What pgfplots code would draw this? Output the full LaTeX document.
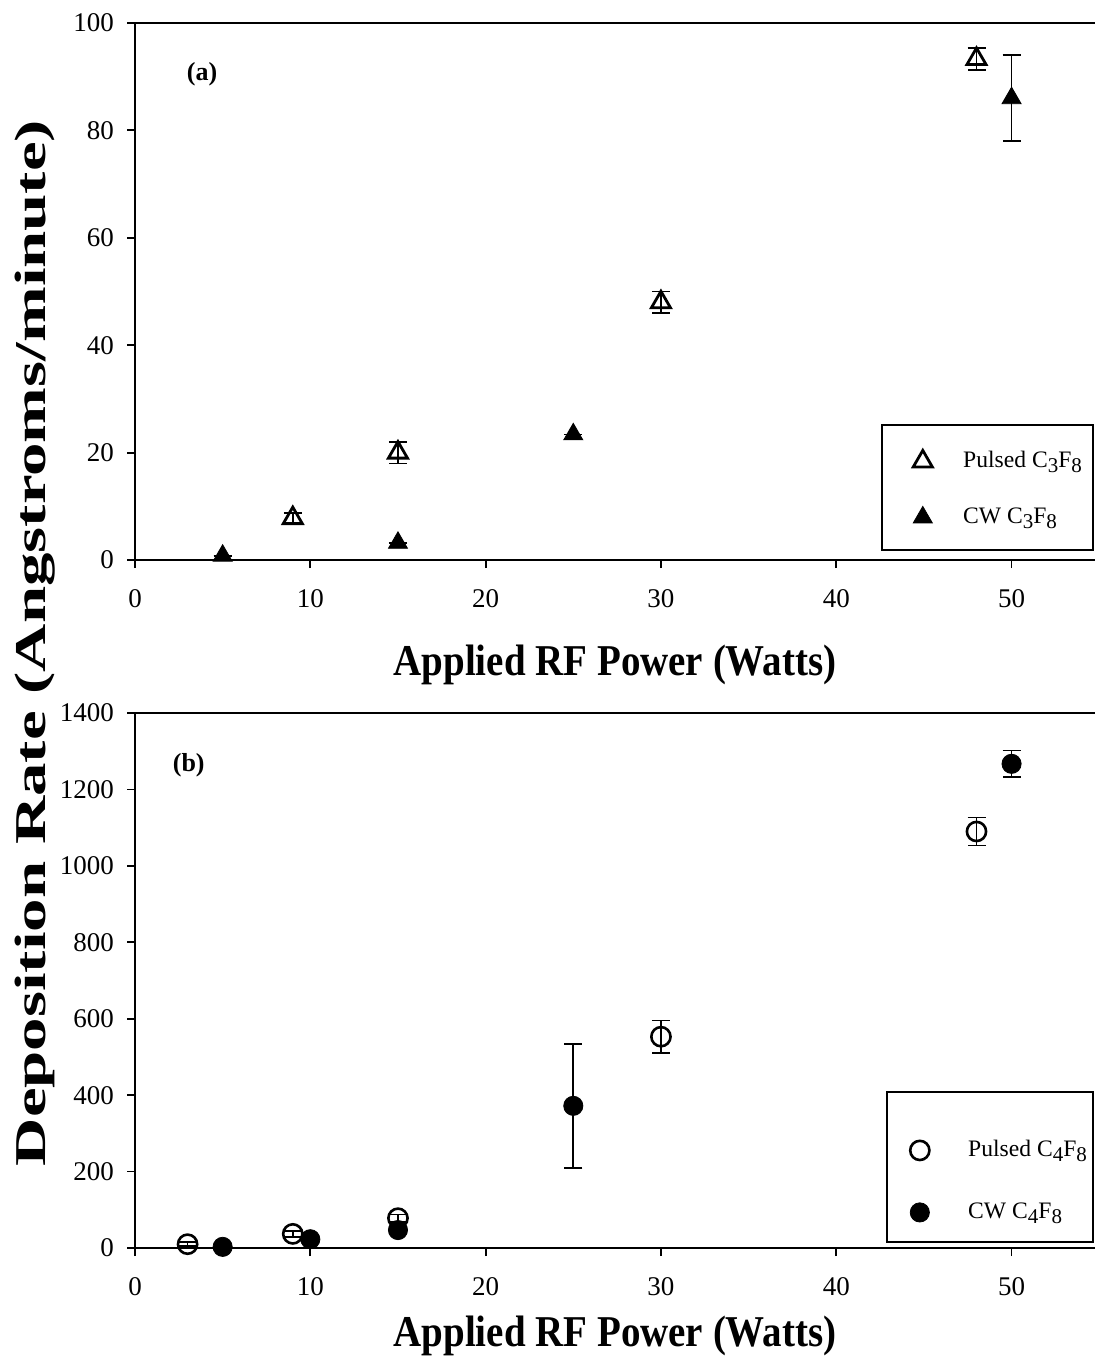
\documentclass[border=0pt]{standalone}
\usepackage{pgfplots}
\pgfplotsset{compat=1.18}
\usepackage{pgfplotstable}
\usepackage{fontspec}
\setmainfont{Liberation Serif}
\newcommand\sub[1]{\raisebox{-0.45ex}{\fontsize{10.5}{11}\selectfont #1}}

\pgfplotstableread{
x y e
9 7.8 1
15 20 2
30 48 2
48 93.3 2
}\pulsedA
\pgfplotstableread{
x y e
5 0.8 0
15 3.2 0
25 23.4 0
50 86 8
}\cwA
\pgfplotstableread{
x y e
3 10 5
9 37 8
15 78 10
30 553 42
48 1090 37
}\pulsedB
\pgfplotstableread{
x y e
5 3 0
10 23 0
15 47 0
25 372 162
50 1267 35
}\cwB

\pgfplotsset{
  myax/.style={
    scale only axis, width=480pt,
    xmin=0, xmax=54.76,
    axis x line=bottom, axis y line=left,
    axis line style={-, line width=1pt},
    tick align=outside, major tick length=4pt,
    every tick/.style={black, line width=0.9pt},
    xtick={0,10,...,50},
    /pgf/number format/assume math mode=true,
    /pgf/number format/1000 sep={},
    tick label style={font=\fontsize{13.5}{16}\selectfont},
    xticklabel style={yshift=-7pt},
    yticklabel style={xshift=-3pt},
    clip=false,
    xlabel={Applied RF Power (Watts)},
    xlabel style={font=\bfseries\fontsize{22}{26}\selectfont, anchor=center, xscale=0.886},
    legend cell align=left,
    legend style={draw=none, fill=none, anchor=north west, inner sep=0pt,
      nodes={inner sep=0pt, text height=9pt, text depth=3pt},
      font=\fontsize{11.8}{14}\selectfont},
    error bars/y dir=both, error bars/y explicit,
    error bars/error bar style={line width=0.8pt, black},
    error bars/error mark options={rotate=90, line width=0.8pt, mark size=4.5pt, black},
  }
}

\begin{document}
\begin{tikzpicture}
\useasboundingbox (0,0) rectangle (547.5pt,-679pt);

\begin{axis}[myax,
  at={(67.5pt,-280pt)}, anchor=south west,
  height=268.5pt,
  ymin=0, ymax=100, ytick={0,20,...,100},
  xlabel style={at={(axis description cs:0.5,-0.195)}},
  legend style={at={(0.7906,0.2067)}, column sep=6pt, row sep=16pt},
  legend image code/.code={\path (0pt,0pt) (28pt,0pt); \draw[#1] plot coordinates {(14pt,0pt)};},
]
\addplot[black, only marks, mark=triangle, mark size=5.5pt, mark options={line width=1.4pt, fill=none}]
  table[x=x, y=y, y error=e] {\pulsedA};
\addlegendentry{Pulsed C\sub{3}F\sub{8}}
\addplot[black, only marks, mark=triangle*, mark size=5.5pt, mark options={fill=black}]
  table[x=x, y=y, y error=e] {\cwA};
\addlegendentry{CW C\sub{3}F\sub{8}}
\draw[line width=1pt] (rel axis cs:0,1) -- (rel axis cs:1,1);
\draw[line width=0.8pt] (rel axis cs:0.778,0.0186) rectangle (rel axis cs:0.998,0.2514);
\node[font=\bfseries\fontsize{13}{15}\selectfont] at (rel axis cs:0.0698,0.905) {(a)};
\end{axis}

\begin{axis}[myax,
  at={(67.5pt,-624pt)}, anchor=south west,
  height=267.5pt,
  ymin=0, ymax=1400, ytick={0,200,...,1400},
  xlabel style={at={(axis description cs:0.5,-0.165)}},
  legend style={at={(0.7875,0.2056)}, column sep=10pt, row sep=19pt},
  legend image code/.code={\path (0pt,0pt) (28pt,0pt); \draw[#1] plot coordinates {(14pt,0pt)};},
]
\addplot[black, only marks, mark=o, mark size=4.8pt, mark options={line width=1.3pt, fill=none}]
  table[x=x, y=y, y error=e] {\pulsedB};
\addlegendentry{Pulsed C\sub{4}F\sub{8}}
\addplot[black, only marks, mark=*, mark size=4.8pt, mark options={fill=black}]
  table[x=x, y=y, y error=e] {\cwB};
\addlegendentry{CW C\sub{4}F\sub{8}}
\draw[line width=1pt] (rel axis cs:0,1) -- (rel axis cs:1,1);
\draw[line width=0.8pt] (rel axis cs:0.7833,0.0112) rectangle (rel axis cs:0.998,0.2916);
\node[font=\bfseries\fontsize{13}{15}\selectfont] at (rel axis cs:0.056,0.903) {(b)};
\end{axis}

\node[rotate=90, xscale=1.52, font=\bfseries\fontsize{22}{26}\selectfont] at (17.5pt,-321.5pt) {Deposition Rate (Angstroms/minute)};
\end{tikzpicture}
\end{document}
